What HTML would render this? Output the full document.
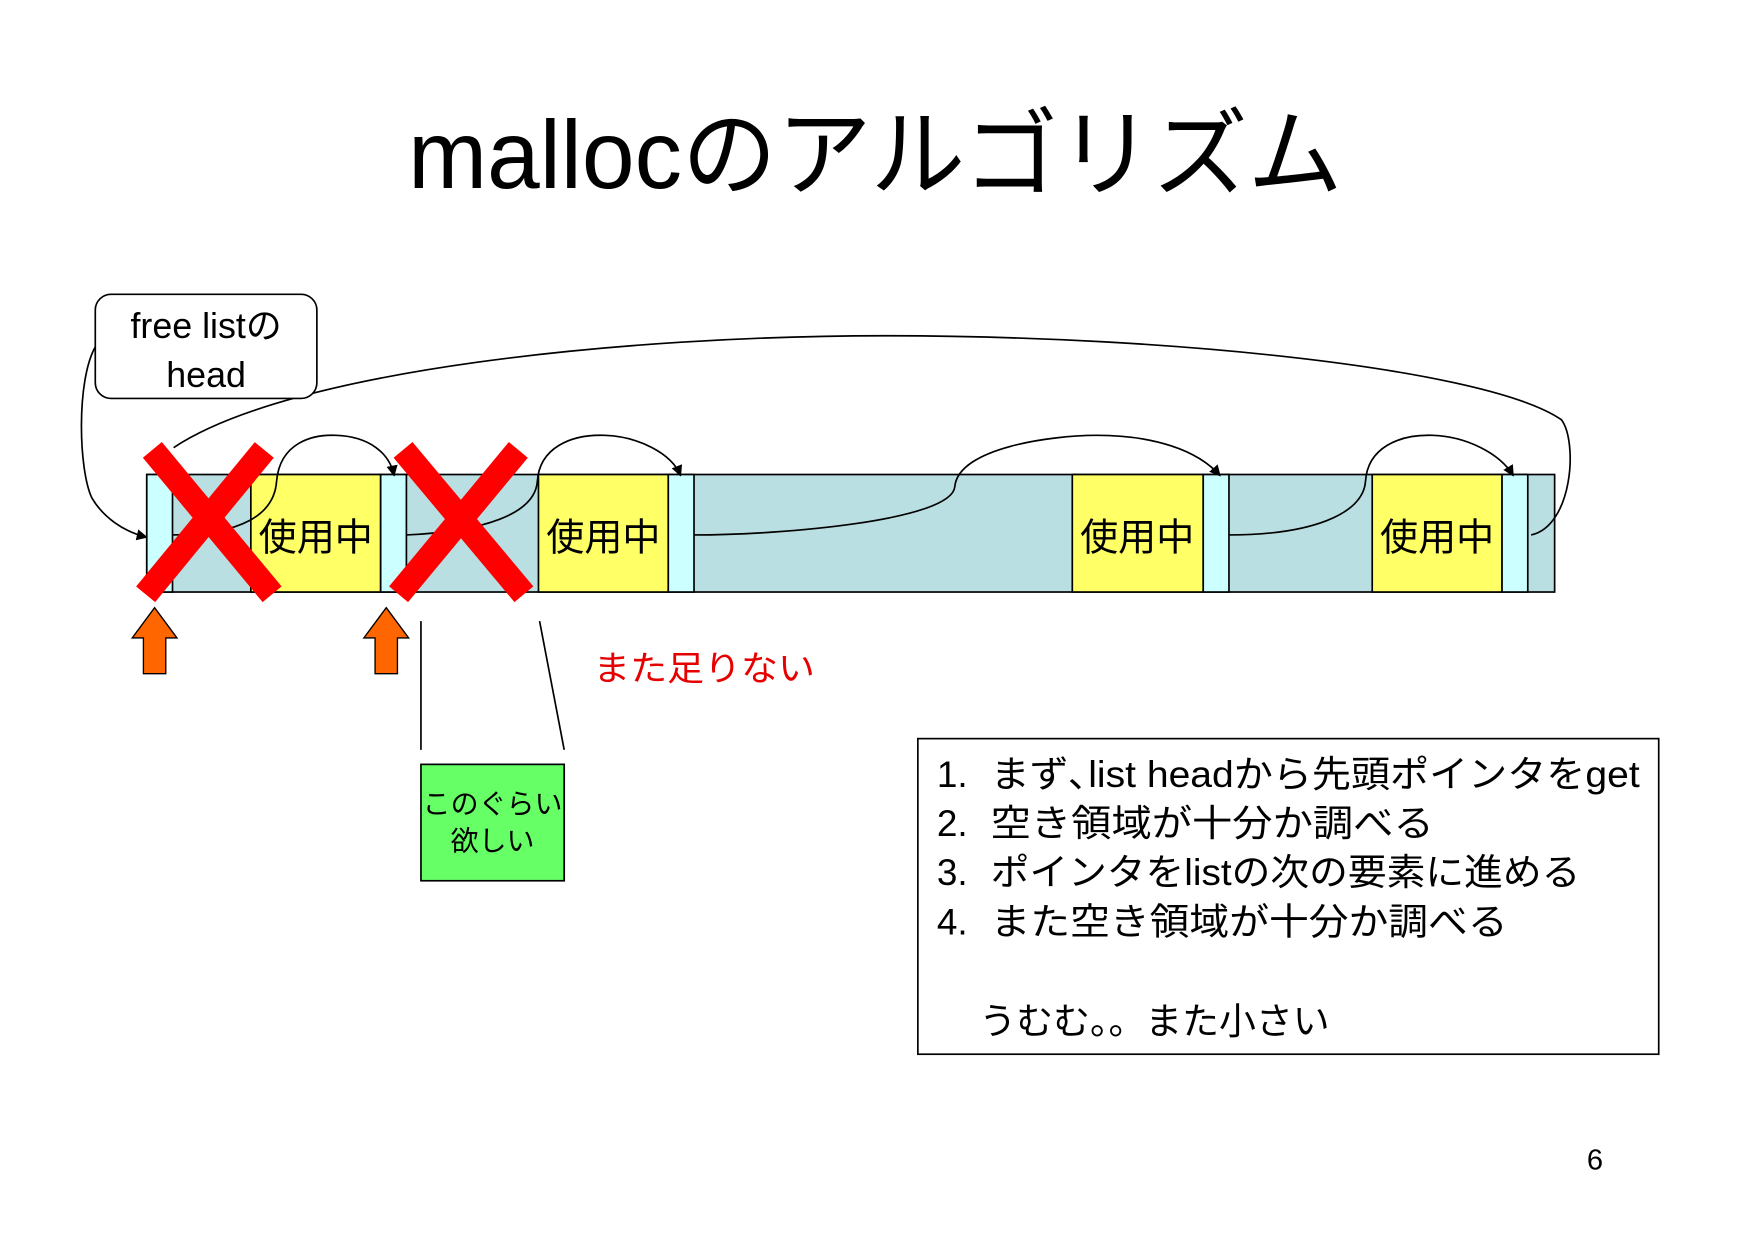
<!DOCTYPE html>
<html><head><meta charset="utf-8"><style>
html,body{margin:0;padding:0;background:#fff;}
svg{display:block;}
text{font-family:"Liberation Sans","Noto Sans CJK JP",sans-serif;}
</style></head><body>
<svg width="1754" height="1240" viewBox="0 0 1567 1108" xmlns="http://www.w3.org/2000/svg">
<defs>
<marker id="ar" markerWidth="10" markerHeight="10" refX="9" refY="5" orient="auto" markerUnits="userSpaceOnUse">
<path d="M0,0 L10,5 L0,10 z" fill="#000"/></marker>
</defs>
<text x="782" y="168" font-size="86" text-anchor="middle" textLength="835" lengthAdjust="spacingAndGlyphs">mallocのアルゴリズム</text>

<!-- bar -->
<rect x="131" y="424" width="1258" height="105" fill="#b9dfe2" stroke="#000" stroke-width="1.5"/>
<g stroke="#000" stroke-width="1.5">
<rect x="131" y="424" width="23" height="105" fill="#ccffff"/>
<rect x="224" y="424" width="116" height="105" fill="#ffff66"/>
<rect x="340" y="424" width="23" height="105" fill="#ccffff"/>
<rect x="481" y="424" width="116" height="105" fill="#ffff66"/>
<rect x="597" y="424" width="23" height="105" fill="#ccffff"/>
<rect x="958" y="424" width="117" height="105" fill="#ffff66"/>
<rect x="1075" y="424" width="23" height="105" fill="#ccffff"/>
<rect x="1226" y="424" width="116" height="105" fill="#ffff66"/>
<rect x="1342" y="424" width="23" height="105" fill="#ccffff"/>
</g>
<g font-size="34" text-anchor="middle">
<text x="282" y="492">使用中</text>
<text x="539" y="492">使用中</text>
<text x="1016" y="492">使用中</text>
<text x="1284" y="492">使用中</text>
</g>

<!-- connectors -->
<g fill="none" stroke="#000" stroke-width="1.5">
<path d="M154,478 C215,478 245,460 247,430 C250,395 280,388 300,389 C330,390 348,405 352,425" marker-end="url(#ar)"/>
<path d="M363,478 C430,475 478,460 480,430 C482,400 510,388 540,389 C570,390 600,405 608,425" marker-end="url(#ar)"/>
<path d="M620,478 C700,478 850,465 853,435 C856,400 940,389 980,389 C1030,389 1070,402 1090,425" marker-end="url(#ar)"/>
<path d="M1098,478 C1170,478 1218,460 1220,430 C1222,400 1250,388 1280,389 C1310,390 1340,405 1352,425" marker-end="url(#ar)"/>
<path d="M155,400 C260,330 560,300 790,300 C1050,300 1330,330 1395,375 C1410,395 1405,470 1368,478"/>
<path d="M85,310 C68,340 70,420 82,445 C92,462 110,475 131,480" marker-end="url(#ar)"/>
<line x1="376" y1="555" x2="376" y2="670"/>
<line x1="482" y1="555" x2="504" y2="670"/>
</g>

<!-- red X -->
<g stroke="#ff0000" stroke-width="22">
<line x1="136" y1="402" x2="243" y2="531"/>
<line x1="236" y1="402" x2="130" y2="531"/>
<line x1="360" y1="402" x2="468" y2="531"/>
<line x1="463" y1="402" x2="356" y2="531"/>
</g>

<!-- orange arrows -->
<g fill="#ff6600" stroke="#000" stroke-width="1.2">
<path d="M138,543 L158,570 L148,570 L148,602 L128,602 L128,570 L118,570 z"/>
<path d="M345,543 L365,570 L355,570 L355,602 L335,602 L335,570 L325,570 z"/>
</g>

<!-- free list head -->
<rect x="85" y="263" width="198" height="93" rx="14" fill="#fff" stroke="#000" stroke-width="1.5"/>
<text x="184" y="302" font-size="32" text-anchor="middle">free listの</text>
<text x="184" y="346" font-size="32" text-anchor="middle">head</text>

<text x="530" y="608" font-size="31" fill="#e60000" textLength="198" lengthAdjust="spacingAndGlyphs">また足りない</text>

<rect x="376" y="683" width="128" height="104" fill="#66ff66" stroke="#000" stroke-width="1.5"/>
<text x="440" y="727" font-size="25" text-anchor="middle">このぐらい</text>
<text x="440" y="760" font-size="25" text-anchor="middle">欲しい</text>

<rect x="820" y="660" width="662" height="282" fill="#fff" stroke="#000" stroke-width="1.5"/>
<g font-size="33">
<text x="837" y="703">1.</text><text x="885" y="703" textLength="580" lengthAdjust="spacingAndGlyphs">まず､list headから先頭ポインタをget</text>
<text x="837" y="747">2.</text><text x="885" y="747" textLength="396" lengthAdjust="spacingAndGlyphs">空き領域が十分か調べる</text>
<text x="837" y="791">3.</text><text x="885" y="791" textLength="527" lengthAdjust="spacingAndGlyphs">ポインタをlistの次の要素に進める</text>
<text x="837" y="835">4.</text><text x="885" y="835" textLength="462" lengthAdjust="spacingAndGlyphs">また空き領域が十分か調べる</text>
<text x="875" y="924" textLength="313" lengthAdjust="spacingAndGlyphs">うむむ。。また小さい</text>
</g>

<text x="1425" y="1045" font-size="26" text-anchor="middle">6</text>
</svg>
</body></html>
